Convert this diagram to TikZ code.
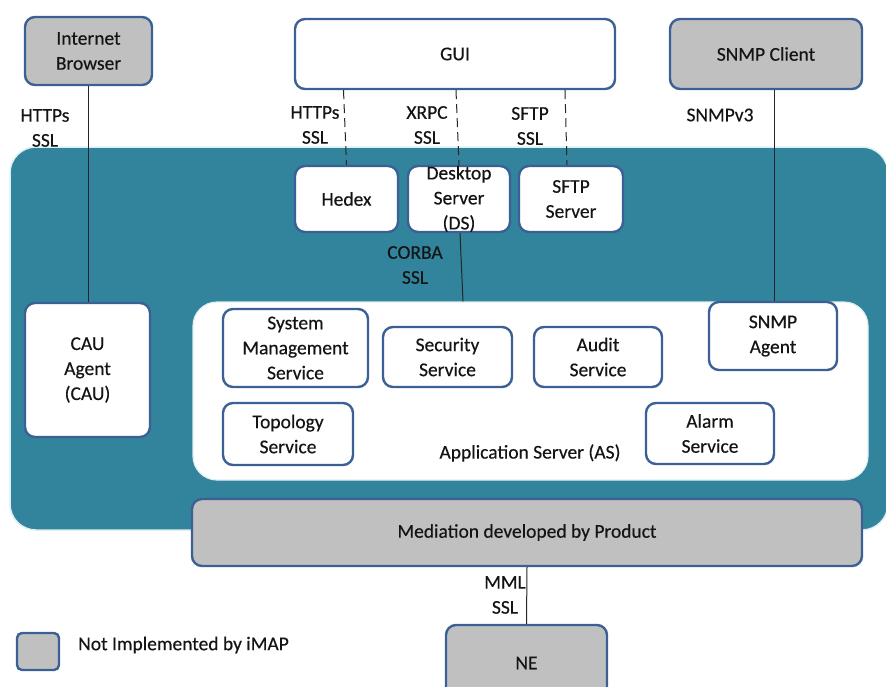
\documentclass[tikz,border=0pt]{standalone}
\usepackage{fontspec}
\setmainfont{Carlito}[FakeBold=0.35]
\usetikzlibrary{calc}
\definecolor{bord}{HTML}{3C5F95}
\definecolor{panelteal}{HTML}{31849B}
\definecolor{glow}{HTML}{DDEFF4}
\definecolor{gfill}{HTML}{C0C0C0}
\definecolor{txt}{HTML}{141414}
\newcommand\diagfont{\fontsize{19.5}{25}\selectfont}
\begin{document}
\begin{tikzpicture}[x=1pt,y=-1pt,
  box/.style={draw=bord, line width=2.4pt, rounded corners=10pt, fill=white,
    align=center, font=\diagfont, text=txt, inner sep=0pt},
  gbox/.style={box, fill=gfill},
  bigbox/.style={box, rounded corners=24pt, line width=1.2pt, draw=glow},
  panel/.style={fill=panelteal, draw=glow, line width=1.5pt, rounded corners=26pt, inner sep=0pt},
  lbl/.style={align=center, font=\diagfont, text=txt, inner sep=0pt},
  conn/.style={draw=black!85, line width=1pt},
  dconn/.style={conn, dash pattern=on 9pt off 5pt}]
\useasboundingbox (0,0) rectangle (886,686);
\clip (0,0) rectangle (886,686);

% teal panel
\node[panel, minimum width=878, minimum height=383] (panel) at (449,338.5) {};

% top clients
\node[gbox, minimum width=127, minimum height=68] (browser) at (88.5,51) {Internet\\Browser};
\node[box, minimum width=320, minimum height=70] (gui) at (455,54) {GUI};
\node[gbox, minimum width=192, minimum height=70] (snmpc) at (766,54) {SNMP Client};

% servers
\node[box, minimum width=103, minimum height=66] (hedex) at (346.5,199) {Hedex};
\node[box, minimum width=102, minimum height=66,
  label={[lbl]center:Desktop\\Server\\(DS)}] (ds) at (459,199) {};
\node[box, minimum width=104, minimum height=66] (sftp) at (571,199) {SFTP\\Server};

% application server
\node[bigbox, minimum width=675, minimum height=178] (as) at (530.5,391) {};
\node[lbl] (aslbl) at (530,453) {Application Server (AS)};
\node[box, minimum width=125, minimum height=134] (cau) at (87.5,370) {CAU\\Agent\\(CAU)};
\node[box, minimum width=145, minimum height=78] (sms) at (295.5,348) {System\\Management\\Service};
\node[box, minimum width=129, minimum height=60] (sec) at (447.5,357) {Security\\Service};
\node[box, minimum width=128, minimum height=60] (audit) at (598,357) {Audit\\Service};
\node[box, minimum width=128, minimum height=68] (agent) at (773,336) {SNMP\\Agent};
\node[box, minimum width=130, minimum height=62] (topo) at (288,434) {Topology\\Service};
\node[box, minimum width=128, minimum height=61] (alarm) at (710,433.5) {Alarm\\Service};

% mediation and NE
\node[gbox, minimum width=670, minimum height=67] (med) at (527,532.5) {Mediation developed by Product};
\node[gbox, minimum width=161, minimum height=76] (ne) at (526.5,663) {NE};

% legend
\node[gbox, rounded corners=5pt, minimum width=42, minimum height=37] (leg) at (38,651.5) {};
\node[lbl, anchor=west] (legtxt) at (78,645) {Not Implemented by iMAP};

% connectors
\draw[conn] (browser.south) -- (browser.south |- cau.north);
\draw[dconn] ([xshift=-3pt]hedex.north |- gui.south) -- (hedex.north);
\draw[dconn] ([xshift=-3pt]ds.north |- gui.south) -- (ds.north);
\draw[dconn] ([xshift=-6pt]sftp.north |- gui.south) -- ([xshift=-4pt]sftp.north);
\draw[conn] ([xshift=8pt]snmpc.south) -- ([xshift=8pt]snmpc.south |- agent.north);
\draw[conn] ([xshift=1pt]ds.south) -- ([xshift=4pt]ds.south |- as.north);
\draw[conn] (med.south) -- (ne.north);

% connector labels
\node[lbl] (l1) at (45,128) {HTTPs\\SSL};
\node[lbl] (l2) at (315,125) {HTTPs\\SSL};
\node[lbl] (l3) at (427,125) {XRPC\\SSL};
\node[lbl] (l4) at (530,126) {SFTP\\SSL};
\node[lbl] (l5) at (720,115) {SNMPv3};
\node[lbl] (l6) at (415,265) {CORBA\\SSL};
\node[lbl] (l7) at (505,595) {MML\\SSL};
\end{tikzpicture}
\end{document}
